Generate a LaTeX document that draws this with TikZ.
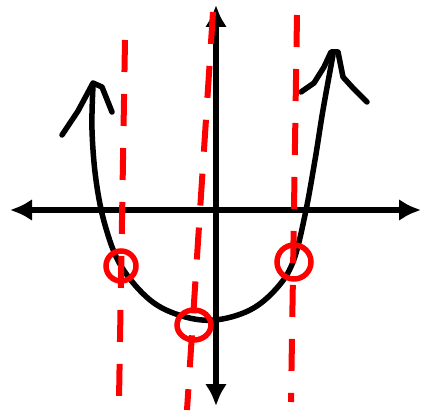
\documentclass[tikz,border=0pt]{standalone}
\usetikzlibrary{arrows.meta}
\tikzset{
  axis/.style={line width=5.5pt, {Latex[length=22pt,width=22pt]}-{Latex[length=22pt,width=22pt]}},
  curve/.style={line width=5.5pt, line cap=round, line join=round},
  guide/.style={red, line width=6pt, dash pattern=on 32pt off 22pt},
  ring/.style={red, line width=5.5pt}
}
\begin{document}
\begin{tikzpicture}[x=1pt, y=-1pt]
\useasboundingbox (0,0) rectangle (429,417);
% axes
\coordinate (xl) at (10,210);
\coordinate (xr) at (421,210);
\coordinate (yt) at (216,5);
\coordinate (yb) at (216,406);
\draw[axis] (xl) -- (xr);
\draw[axis] (yt) -- (yb);
% parabola
\draw[curve] plot[smooth, tension=0.6] coordinates {(93,86) (92,130) (96,180) (105,225) (121,266) (150,300) (182,316) (215,320) (250,310) (276,289) (293,262) (305,215) (315,160) (323,110) (333,55)};
% hand drawn arrow heads
\draw[curve] (62,135) -- (78,111) -- (93,83) -- (102,87) -- (112,112);
\draw[curve] (301,92) -- (314,83) -- (324,67) -- (331,52) -- (338,52) -- (343,77) -- (353,88) -- (367,102);
% dashed guides
\coordinate (g1t) at (125,40);
\coordinate (g1b) at (119,400);
\coordinate (g2t) at (213,12);
\coordinate (g2b) at (187,410);
\coordinate (g3t) at (297,15);
\coordinate (g3b) at (291,402);
\draw[guide] (g1t) -- (g1b);
\draw[guide] (g2t) -- (g2b);
\draw[guide] (g3t) -- (g3b);
% crossings
\draw[ring] (121,266) circle (15pt);
\draw[ring] (194,325) ellipse (17pt and 15pt);
\draw[ring] (294,262) circle (17pt);
\end{tikzpicture}
\end{document}
